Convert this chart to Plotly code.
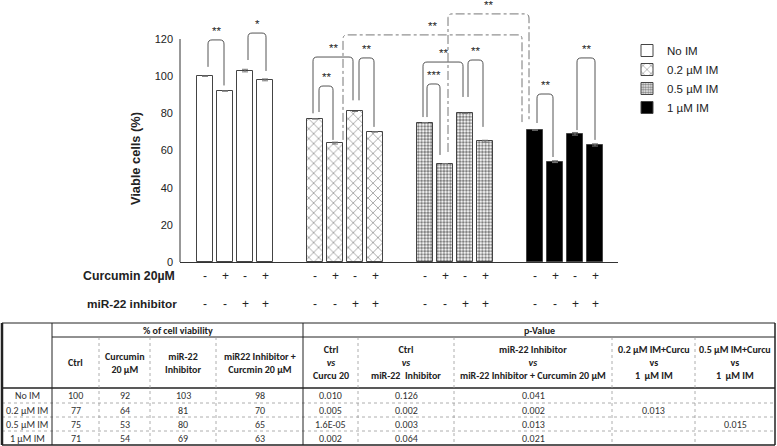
import plotly.graph_objects as go

# ---------------- data ----------------
group_names = ["No IM", "0.2 µM IM", "0.5 µM IM", "1 µM IM"]
viab_no_im = [100, 92, 103, 98]
viab_im02 = [77, 64, 81, 70]
viab_im05 = [75, 53, 80, 65]
viab_im1 = [71, 54, 69, 63]
err_no_im = [0, 0, 0.7, 0.5]
err_im02 = [0, 0.5, 0, 0]
err_im05 = [0, 0, 0, 0.5]
err_im1 = [0, 0.5, 0.7, 0.6]
curcumin_row = ["-", "+", "-", "+"]
mir22_row = ["-", "-", "+", "+"]
y_ticks = [0, 20, 40, 60, 80, 100, 120]

table_row_labels = ["No IM", "0.2 µM IM", "0.5 µM IM", "1 µM IM"]
table_viab_headers = ["Ctrl", "Curcumin<br>20 µM", "miR-22<br>Inhibitor",
                      "miR22 Inhibitor +<br>Curcmin 20 µM"]
table_p_headers = ["Ctrl<br><i>vs</i><br>Curcu 20",
                   "Ctrl<br><i>vs</i><br>miR-22  Inhibitor",
                   "miR-22 Inhibitor<br><i>vs</i><br>miR-22 Inhibitor + Curcumin 20 µM",
                   "0.2 µM IM+Curcu<br>vs<br>1  µM IM",
                   "0.5 µM IM+Curcu<br>vs<br>1  µM IM"]
p_ctrl_vs_curcu = ["0.010", "0.005", "1.6E-05", "0.002"]
p_ctrl_vs_mir = ["0.126", "0.002", "0.003", "0.064"]
p_mir_vs_mircurc = ["0.041", "0.002", "0.013", "0.021"]
p_02_vs_1 = ["", "0.013", "", ""]
p_05_vs_1 = ["", "", "0.015", ""]

# ---------------- layout constants ----------------
W, H = 777, 446
ML, MR, MT, MB = 180, 159, 0, 184
PW, PH = W - ML - MR, H - MT - MB
YMAX = PH / (223 / 120)
GROUP_STEP = 5.5
XMIN = -1.25
XMAX = XMIN + PW / 20

ARIAL = "Liberation Sans, Arial, sans-serif"
CAL = "Carlito, Calibri, Roboto, sans-serif"


def px(x):
    return (x - ML) / PW


def py(y):
    return (MT + PH - y) / PH


def bx(g, i):
    return g * GROUP_STEP + i


series = [viab_no_im, viab_im02, viab_im05, viab_im1]
errors = [err_no_im, err_im02, err_im05, err_im1]
patterns = [
    dict(shape="", bgcolor="white"),
    dict(shape="x", size=7, solidity=0.22, fgcolor="#333", bgcolor="white"),
    dict(shape=".", size=3.2, solidity=0.6, fgcolor="#000", bgcolor="white"),
    dict(shape="", bgcolor="black"),
]
fills = ["white", "white", "white", "black"]

fig = go.Figure()
for g, (name, vals, err) in enumerate(zip(group_names, series, errors)):
    fig.add_trace(go.Bar(
        x=[bx(g, i) for i in range(len(vals))], y=vals, name=name, width=0.8,
        marker=dict(color=fills[g], line=dict(color="#444", width=1),
                    pattern=patterns[g]),
        error_y=dict(type="data", array=err, color="#777", thickness=1, width=3),
    ))

# axis line for y (only to 120)
shapes = [dict(type="line", xref="paper", yref="y", x0=0, x1=0, y0=0, y1=120,
               line=dict(color="#333", width=1))]
annotations = []


def bracket(a, b, top, label, dash=None, dxa=0.0, dxb=0.0, gapa=3, gapb=3, color="#555"):
    (ga, ia), (gb, ib) = a, b
    xa = bx(ga, ia) + dxa
    xb = bx(gb, ib) + dxb
    ya = series[ga][ia] + gapa
    yb = series[gb][ib] + gapb
    rx, ry = 0.2, 2.2
    path = (f"M{xa},{ya} L{xa},{top - ry} Q{xa},{top} {xa + rx},{top} "
            f"L{xb - rx},{top} Q{xb},{top} {xb},{top - ry} L{xb},{yb}")
    line = dict(color=color, width=1)
    if dash:
        line["dash"] = dash
    shapes.append(dict(type="path", xref="x", yref="y", path=path, line=line))
    annotations.append(dict(x=(xa + xb) / 2, y=top + 0.6, xref="x", yref="y",
                            text=label, showarrow=False, xanchor="center", yanchor="bottom",
                            font=dict(family=ARIAL, size=11.5, color="#222")))


bracket((0, 0), (0, 1), 119.5, "**", dxa=0.15, dxb=-0.05, gapa=5, gapb=3)
bracket((0, 2), (0, 3), 123.2, "*", dxa=0.15, dxb=0.05, gapa=5.7, gapb=4.8)
bracket((1, 0), (1, 1), 94.7, "**", dxa=0.2, dxb=-0.1, gapa=3.7, gapb=1.7)
bracket((1, 0), (1, 2), 110.3, "**", dxa=-0.1, dxb=-0.1, gapa=3, gapb=6)
bracket((1, 2), (1, 3), 109.8, "**", dxa=0.2, dxb=-0.05, gapa=6, gapb=2.7)
bracket((2, 0), (2, 1), 95.8, "***", dxa=0.1, dxb=-0.25, gapa=3, gapb=4.6)
bracket((2, 0), (2, 2), 107.6, "**", dxa=-0.1, dxb=-0.1, gapa=3, gapb=8.8)
bracket((2, 2), (2, 3), 108.7, "**", dxa=0.15, dxb=-0.1, gapa=8.8, gapb=7.7)
bracket((3, 0), (3, 1), 90.4, "**", dxa=0.1, dxb=-0.1, gapa=3.8, gapb=2.5)
bracket((3, 2), (3, 3), 109.8, "**", dxa=0.1, dxb=0.0, gapa=2, gapb=2.7)
bracket((1, 1), (3, 0), 122.2, "**", dash="dashdot", dxa=0.4, dxb=-0.65,
        gapa=1.7, gapb=4.3, color="#777")
bracket((2, 1), (3, 0), 133.5, "**", dash="dashdot", dxa=0.15, dxb=-0.3,
        gapa=6.2, gapb=4.3, color="#777")


def ptext(x, y, text, size, family=ARIAL, xanchor="center", xref="paper", angle=0,
          color="#222"):
    annotations.append(dict(x=x, y=y, xref=xref, yref="paper", text=text,
                            showarrow=False, xanchor=xanchor, yanchor="middle",
                            textangle=angle, align="center",
                            font=dict(family=family, size=size, color=color)))


# treatment rows under the axis
for g in range(len(group_names)):
    for i in range(4):
        ptext(bx(g, i), py(276), curcumin_row[i], 12, xref="x")
        ptext(bx(g, i), py(304), mir22_row[i], 12, xref="x")
ptext(px(177), py(276), "<b>Curcumin 20µM</b>", 12.3, xanchor="right")
ptext(px(179), py(304), "<b>miR-22 inhibitor</b>", 11.8, xanchor="right")
ptext(px(135), py(159), "<b>Viable cells (%)</b>", 12.8, angle=-90)

# ---------------- table ----------------
col_edges = [2, 52, 99, 150, 216, 303, 358, 454, 612, 695, 775]
row_edges = [323, 337, 388, 403, 417, 431, 445]
SOLID = "#222"
DOT = "#999"


def hline(y, x0, x1, color=SOLID, width=1, dash=None):
    ln = dict(color=color, width=width)
    if dash:
        ln["dash"] = dash
    shapes.append(dict(type="line", xref="paper", yref="paper", x0=px(x0), x1=px(x1),
                       y0=py(y), y1=py(y), line=ln))


def vline(x, y0, y1, color=SOLID, width=1, dash=None):
    ln = dict(color=color, width=width)
    if dash:
        ln["dash"] = dash
    shapes.append(dict(type="line", xref="paper", yref="paper", x0=px(x), x1=px(x),
                       y0=py(y0), y1=py(y1), line=ln))


hline(row_edges[0], col_edges[0], col_edges[-1])
hline(row_edges[-1], col_edges[0], col_edges[-1], width=1.5)
hline(row_edges[1], col_edges[1], col_edges[-1])
hline(row_edges[2], col_edges[0], col_edges[-1], width=1.5)
for r in row_edges[3:-1]:
    hline(r, col_edges[0], col_edges[-1], color=DOT, width=0.8, dash="dot")
vline(col_edges[0], row_edges[0], row_edges[-1], width=2.5)
vline(col_edges[-1], row_edges[0], row_edges[-1], width=1.5)
vline(col_edges[1], row_edges[0], row_edges[-1])
vline(col_edges[5], row_edges[0], row_edges[-1])
for c in col_edges[2:5] + col_edges[6:-1]:
    vline(c, row_edges[1], row_edges[-1], color=DOT, width=0.8, dash="dot")


def cell_text(x, y, text, size=10, bold=False):
    t = f"<b>{text}</b>" if bold else text
    ptext(px(x), py(y), t, size, family=CAL, color="#222" if bold else "#333")


def mid(i):
    return (col_edges[i] + col_edges[i + 1]) / 2


def rmid(j):
    return (row_edges[j] + row_edges[j + 1]) / 2


cell_text((col_edges[1] + col_edges[5]) / 2, rmid(0), "% of cell viability", bold=True)
cell_text((col_edges[5] + col_edges[-1]) / 2, rmid(0), "p-Value", bold=True)
for k, h in enumerate(table_viab_headers):
    cell_text(mid(1 + k), rmid(1), h, bold=True)
for k, h in enumerate(table_p_headers):
    cell_text(mid(5 + k), rmid(1), h, bold=True)

p_cols = [p_ctrl_vs_curcu, p_ctrl_vs_mir, p_mir_vs_mircurc, p_02_vs_1, p_05_vs_1]
for r, lab in enumerate(table_row_labels):
    cell_text(mid(0), rmid(2 + r), lab)
    for k in range(4):
        cell_text(mid(1 + k), rmid(2 + r), str(series[r][k]))
    for k, col in enumerate(p_cols):
        if col[r]:
            cell_text(mid(5 + k), rmid(2 + r), col[r])

fig.update_layout(
    width=W, height=H, margin=dict(l=ML, r=MR, t=MT, b=MB, pad=0),
    paper_bgcolor="white", plot_bgcolor="white",
    barmode="overlay", bargap=0,
    xaxis=dict(range=[XMIN, XMAX], showticklabels=False, ticks="", showgrid=False,
               zeroline=False, showline=True, linecolor="#333", linewidth=1,
               fixedrange=True),
    yaxis=dict(range=[0, YMAX], tickvals=y_ticks, showgrid=False, zeroline=False,
               showline=False, ticks="", ticklabelstandoff=6,
               tickfont=dict(family=ARIAL, size=11, color="#222")),
    legend=dict(x=px(627), y=py(36), xanchor="left", yanchor="top",
                font=dict(family=ARIAL, size=11.5, color="#222"),
                bgcolor="rgba(0,0,0,0)", tracegroupgap=0),
    shapes=shapes, annotations=annotations, showlegend=True,
)

fig.write_html("out.html", config={"displayModeBar": False},
               post_script="document.body.style.margin='0';")
